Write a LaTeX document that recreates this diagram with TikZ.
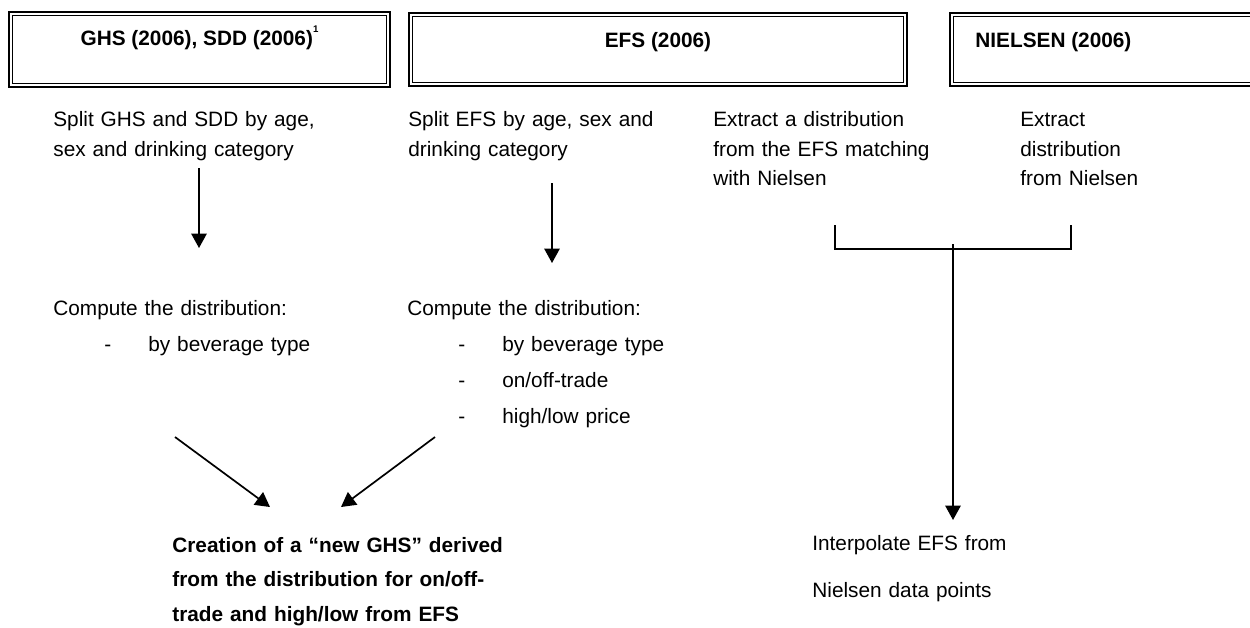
\documentclass[tikz,border=0pt]{standalone}
\usepackage{fontspec}
\setmainfont{Liberation Sans}
\usetikzlibrary{arrows.meta}

\begin{document}
\begin{tikzpicture}[x=0.02cm,y=-0.02cm,>={Triangle[length=0.29cm,width=0.31cm]},
	frameout/.style={line width=0.04cm},
	framein/.style={line width=0.02cm},
	flow/.style={->,line width=0.034cm},
	txt/.style={anchor=base west,inner sep=0pt,align=left,text width=7cm,
		font=\fontsize{11.84}{17.07}\selectfont},
	head/.style={anchor=base,inner sep=0pt,font=\bfseries\fontsize{11.84}{14}\selectfont}]

	\useasboundingbox (0,0) rectangle (1250,627);

	% indents of the list items
	\def\dsh{\hspace*{1.02cm}\makebox[0.88cm][l]{-}}

	% source boxes (thick-thin frame)
	\draw[frameout] (9,12) rectangle (390,87);
	\draw[framein] (12.5,15.5) rectangle (386.5,83.5);
	\draw[frameout] (409,13) rectangle (907,86);
	\draw[framein] (412.5,16.5) rectangle (903.5,82.5);
	\draw[frameout] (950,13) rectangle (1262,86);
	\draw[framein] (953.5,16.5) rectangle (1258.5,82.5);

	% headings
	\node[head] (ghs) at (199.5,45)
		{GHS (2006), SDD (2006)\raisebox{1.15ex}{\fontsize{5.5}{6}\selectfont 1}};
	\node[head] (efs) at (658,47) {EFS (2006)};
	\node[head,anchor=base west] (nls) at (975,47) {NIELSEN (2006)};

	% first step
	\node[txt] (ghsSplit) at (53,126) {Split GHS and SDD by age,\\sex and drinking category};
	\node[txt] (efsSplit) at (408,126) {Split EFS by age, sex and\\drinking category};
	\node[txt] (efsExtract) at (713,126) {Extract a distribution\\from the EFS matching\\with Nielsen};
	\node[txt] (nlsExtract) at (1020,126) {Extract\\distribution\\from Nielsen};

	% second step
	\node[txt,font=\fontsize{11.84}{20.5}\selectfont] (ghsCompute) at (53,315)
		{Compute the distribution:\\\dsh by beverage type};
	\node[txt,font=\fontsize{11.84}{20.5}\selectfont] (efsCompute) at (407,315)
		{Compute the distribution:\\\dsh by beverage type\\\dsh on/off-trade\\\dsh high/low price};

	% results
	\node[txt,font=\bfseries\fontsize{11.84}{19.9}\selectfont] (newGhs) at (172,552)
		{Creation of a “new GHS” derived\\from the distribution for on/off-\\trade and high/low from EFS};
	\node[txt,font=\fontsize{11.84}{27.3}\selectfont] (interp) at (812,550)
		{Interpolate EFS from\\Nielsen data points};

	% arrow end points
	\coordinate (ghsFrom) at (199,168);
	\coordinate (ghsTo) at (199,248);
	\coordinate (efsFrom) at (552,183);
	\coordinate (efsTo) at (552,263);
	\coordinate (brL) at (835,225);
	\coordinate (brR) at (1071,225);
	\coordinate (brTop) at (953,244);
	\coordinate (brTo) at (953,520);
	\coordinate (leftFrom) at (175,437);
	\coordinate (leftTo) at (270,507);
	\coordinate (rightFrom) at (435,437);
	\coordinate (rightTo) at (341,507);

	% arrows
	\draw[flow] (ghsFrom) -- (ghsTo);
	\draw[flow] (efsFrom) -- (efsTo);
	\draw[line width=0.034cm] (brL) -- ++(0,24) -| (brR);
	\draw[flow] (brTop) -- (brTo);
	\draw[flow] (leftFrom) -- (leftTo);
	\draw[flow] (rightFrom) -- (rightTo);

\end{tikzpicture}
\end{document}
